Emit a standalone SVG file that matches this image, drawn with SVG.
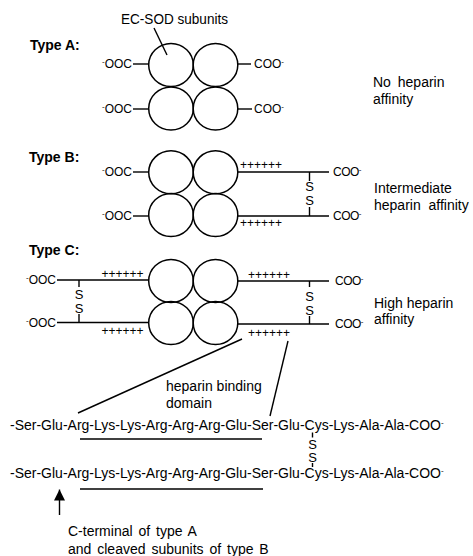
<svg xmlns="http://www.w3.org/2000/svg" width="473" height="556" viewBox="0 0 473 556">
<style>
text{font-family:"Liberation Sans",Arial,sans-serif;fill:#000}
.t{font-size:14px;font-weight:bold}
.lab{font-size:14px}
.grp{font-size:12px}
.grpr{font-size:12px;letter-spacing:-0.5px}
.sup{font-size:8px}
.plus{font-size:12px}
.s{font-size:13px;text-anchor:middle}
.seq{font-size:14px}
.sub{fill:none;stroke:#000;stroke-width:1.5}
.ln{stroke:#000;stroke-width:1.4;fill:none}
</style>
<defs>
<ellipse id="c" rx="22.3" ry="21.5" class="sub"/>
<marker id="ah" viewBox="0 0 10 10" refX="10" refY="5" markerWidth="11" markerHeight="11" markerUnits="userSpaceOnUse" orient="auto"><path d="M0,0 L10,5 L0,10 Z" fill="#000"/></marker>
</defs>
<rect width="473" height="556" fill="#fff"/>

<g id="typeA">
<text class="t" x="30" y="50">Type A:</text>
<use href="#c" x="171" y="65"/><use href="#c" x="215.5" y="65"/>
<use href="#c" x="171" y="108.5"/><use href="#c" x="215.5" y="108.5"/>
<line class="ln" x1="133" y1="64" x2="149" y2="64"/>
<line class="ln" x1="133" y1="109" x2="149" y2="109"/>
<line class="ln" x1="237.5" y1="64" x2="251" y2="64"/>
<line class="ln" x1="237.5" y1="109" x2="252" y2="109"/>
<text class="grp" x="132" y="68" text-anchor="end"><tspan class="sup" dy="-4">-</tspan><tspan dy="4">OOC</tspan></text>
<text class="grp" x="132" y="113" text-anchor="end"><tspan class="sup" dy="-4">-</tspan><tspan dy="4">OOC</tspan></text>
<text class="grp" x="254" y="68">COO<tspan class="sup" dy="-4">-</tspan></text>
<text class="grp" x="254" y="113">COO<tspan class="sup" dy="-4">-</tspan></text>
<text class="lab" x="373" y="86.5" word-spacing="3">No heparin</text>
<text class="lab" x="373" y="104">affinity</text>
</g>

<g id="typeB">
<text class="t" x="29" y="162">Type B:</text>
<use href="#c" x="171" y="172.3"/><use href="#c" x="215.5" y="172.3"/>
<use href="#c" x="171" y="215"/><use href="#c" x="215.5" y="215"/>
<line class="ln" x1="133" y1="172" x2="149" y2="172"/>
<line class="ln" x1="133" y1="216" x2="149" y2="216"/>
<line class="ln" x1="237.5" y1="172" x2="329" y2="172"/>
<line class="ln" x1="237.5" y1="216" x2="329" y2="216"/>
<text class="plus" x="240" y="169">++++++</text>
<text class="plus" x="240" y="227">++++++</text>
<line class="ln" x1="309.5" y1="172" x2="309.5" y2="181"/>
<text class="s" x="309.5" y="191">S</text>
<text class="s" x="309.5" y="205">S</text>
<line class="ln" x1="309.5" y1="207" x2="309.5" y2="216"/>
<text class="grp" x="132" y="176" text-anchor="end"><tspan class="sup" dy="-4">-</tspan><tspan dy="4">OOC</tspan></text>
<text class="grp" x="132" y="220" text-anchor="end"><tspan class="sup" dy="-4">-</tspan><tspan dy="4">OOC</tspan></text>
<text class="grpr" x="333" y="176">COO<tspan class="sup" dy="-4">-</tspan></text>
<text class="grpr" x="333" y="220">COO<tspan class="sup" dy="-4">-</tspan></text>
<text class="lab" x="374" y="193">Intermediate</text>
<text class="lab" x="374" y="210" xml:space="preserve">heparin  affinity</text>
</g>

<g id="typeC">
<text class="t" x="29" y="255">Type C:</text>
<use href="#c" x="171" y="281"/><use href="#c" x="215.5" y="281"/>
<use href="#c" x="171" y="323"/><use href="#c" x="215.5" y="323"/>
<line class="ln" x1="57" y1="280" x2="149" y2="280"/>
<line class="ln" x1="57" y1="322.5" x2="149" y2="322.5"/>
<text class="plus" x="101.5" y="278">++++++</text>
<text class="plus" x="101.5" y="335">++++++</text>
<line class="ln" x1="79" y1="280" x2="79" y2="287"/>
<text class="s" x="79" y="298.5">S</text>
<text class="s" x="79" y="313">S</text>
<line class="ln" x1="79" y1="314" x2="79" y2="322.5"/>
<text class="grp" x="56" y="284" text-anchor="end"><tspan class="sup" dy="-4">-</tspan><tspan dy="4">OOC</tspan></text>
<text class="grp" x="56" y="326.5" text-anchor="end"><tspan class="sup" dy="-4">-</tspan><tspan dy="4">OOC</tspan></text>
<line class="ln" x1="237.5" y1="281" x2="329" y2="281"/>
<line class="ln" x1="237.5" y1="324" x2="329" y2="324"/>
<text class="plus" x="248" y="278.5">++++++</text>
<text class="plus" x="248" y="337">++++++</text>
<line class="ln" x1="309.5" y1="281" x2="309.5" y2="287"/>
<text class="s" x="309.5" y="300.5">S</text>
<text class="s" x="309.5" y="314.5">S</text>
<line class="ln" x1="309.5" y1="316" x2="309.5" y2="324"/>
<text class="grpr" x="335" y="285">COO<tspan class="sup" dy="-4">-</tspan></text>
<text class="grpr" x="335" y="328">COO<tspan class="sup" dy="-4">-</tspan></text>
<text class="lab" x="374" y="308">High heparin</text>
<text class="lab" x="374" y="324">affinity</text>
</g>

<g id="sequence">
<text class="seq" x="10" y="430">-Ser-Glu-Arg-Lys-Lys-Arg-Arg-Arg-Glu-Ser-Glu-Cys-Lys-Ala-Ala-COO<tspan class="sup" dy="-5">-</tspan></text>
<line class="ln" x1="80" y1="439" x2="262" y2="439"/>
<line class="ln" x1="312.5" y1="432.5" x2="312.5" y2="437.5"/>
<text class="s" x="312.5" y="448.5">S</text>
<text class="s" x="312.5" y="462">S</text>
<line class="ln" x1="312.5" y1="463" x2="312.5" y2="467"/>
<text class="seq" x="10" y="478">-Ser-Glu-Arg-Lys-Lys-Arg-Arg-Arg-Glu-Ser-Glu-Cys-Lys-Ala-Ala-COO<tspan class="sup" dy="-5">-</tspan></text>
<line class="ln" x1="80" y1="489" x2="263" y2="489"/>
</g>

<g id="labels">
<text class="lab" x="121" y="24" textLength="107" lengthAdjust="spacingAndGlyphs">EC-SOD subunits</text>
<text class="lab" x="166" y="391">heparin binding</text>
<text class="lab" x="166" y="408">domain</text>
<text class="lab" x="68" y="536" word-spacing="2">C-terminal of type A</text>
<text class="lab" x="68" y="554" word-spacing="2">and cleaved subunits of type B</text>
</g>

<g id="connectors">
<line class="ln" x1="154" y1="28" x2="167" y2="55" stroke-width="1.6"/>
<line class="ln" x1="242" y1="339" x2="78" y2="413" stroke-width="1.8"/>
<line class="ln" x1="288" y1="341" x2="270" y2="416" stroke-width="1.5"/>
<line class="ln" x1="59.5" y1="515" x2="59.5" y2="489.5" stroke-width="1.6" marker-end="url(#ah)"/>
</g>
</svg>
